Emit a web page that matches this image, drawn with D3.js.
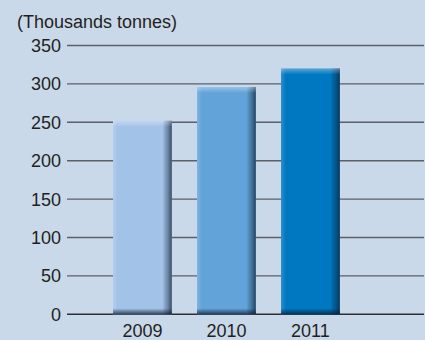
<!DOCTYPE html>
<html>
<head>
<meta charset="utf-8">
<script src="https://cdn.jsdelivr.net/npm/d3@7"></script>
<style>
  html, body { margin: 0; padding: 0; background: #cad9ea; }
  svg { display: block; }
  text { font-family: "Liberation Sans", Arial, sans-serif; fill: #231f20; }
</style>
</head>
<body>
<script>
// Production by year (thousand tonnes)
const years = ["2009", "2010", "2011"];
const production = [252, 296, 320];
const barColors = ["#a3c2e7", "#62a4d9", "#0078c1"];
const yTicks = [0, 50, 100, 150, 200, 250, 300, 350];
const unitLabel = "(Thousands tonnes)";

const W = 425, H = 340;
const FS = 18;
const svg = d3.select("body").append("svg").attr("width", W).attr("height", H);
svg.append("rect").attr("width", W).attr("height", H).attr("fill", "#cad9ea");

const plot = { left: 67, right: 424, top: 45.5, bottom: 314.3 };

const y = d3.scaleLinear().domain([0, 350]).range([plot.bottom, plot.top]);
const x = d3.scaleBand().domain(years).range([100.4, 352.4]).paddingInner(0.3).paddingOuter(0.15);

const defs = svg.append("defs");
// side shading: light left rim, dark right edge
const hg = defs.append("linearGradient").attr("id", "sideShade").attr("x1", 0).attr("x2", 1).attr("y1", 0).attr("y2", 0);
hg.append("stop").attr("offset", 0).attr("stop-color", "#ffffff").attr("stop-opacity", 0.18);
hg.append("stop").attr("offset", 0.08).attr("stop-color", "#ffffff").attr("stop-opacity", 0);
hg.append("stop").attr("offset", 0.84).attr("stop-color", "#000000").attr("stop-opacity", 0);
hg.append("stop").attr("offset", 0.93).attr("stop-color", "#0a1a30").attr("stop-opacity", 0.35);
hg.append("stop").attr("offset", 1).attr("stop-color", "#0a1a30").attr("stop-opacity", 0.7);

// top highlight
const tg = defs.append("linearGradient").attr("id", "topShade").attr("x1", 0).attr("x2", 0).attr("y1", 0).attr("y2", 1);
tg.append("stop").attr("offset", 0).attr("stop-color", "#ffffff").attr("stop-opacity", 0.35);
tg.append("stop").attr("offset", 1).attr("stop-color", "#ffffff").attr("stop-opacity", 0);

// bottom dark edge
const bg = defs.append("linearGradient").attr("id", "bottomShade").attr("x1", 0).attr("x2", 0).attr("y1", 0).attr("y2", 1);
bg.append("stop").attr("offset", 0).attr("stop-color", "#0a1a30").attr("stop-opacity", 0);
bg.append("stop").attr("offset", 1).attr("stop-color", "#0a1a30").attr("stop-opacity", 0.75);

// gridlines
svg.append("g").selectAll("line").data(yTicks).join("line")
  .attr("x1", plot.left).attr("x2", plot.right)
  .attr("y1", d => y(d)).attr("y2", d => y(d))
  .attr("stroke", d => d === 0 ? "#2f2f35" : "#5d5f66")
  .attr("stroke-width", 1.4);

// y tick labels
svg.append("g").selectAll("text").data(yTicks).join("text")
  .attr("x", 61).attr("y", d => y(d)).attr("dy", "0.36em")
  .attr("text-anchor", "end").attr("font-size", FS)
  .text(d => d);

// unit label
svg.append("text").attr("x", 17).attr("y", 27.5).attr("font-size", FS).text(unitLabel);

// bars
const bars = svg.append("g").selectAll("g").data(years).join("g");
bars.append("rect")
  .attr("x", d => x(d)).attr("width", x.bandwidth())
  .attr("y", (d, i) => y(production[i])).attr("height", (d, i) => plot.bottom - y(production[i]))
  .attr("fill", (d, i) => barColors[i]);
bars.append("rect")
  .attr("x", d => x(d)).attr("width", x.bandwidth())
  .attr("y", (d, i) => y(production[i])).attr("height", (d, i) => plot.bottom - y(production[i]))
  .attr("fill", "url(#sideShade)");
bars.append("rect")
  .attr("x", d => x(d)).attr("width", x.bandwidth())
  .attr("y", (d, i) => y(production[i])).attr("height", 6)
  .attr("fill", "url(#topShade)");
bars.append("rect")
  .attr("x", d => x(d)).attr("width", x.bandwidth())
  .attr("y", plot.bottom - 6).attr("height", 6)
  .attr("fill", "url(#bottomShade)");

// year labels
svg.append("g").selectAll("text").data(years).join("text")
  .attr("x", d => x(d) + x.bandwidth() / 2).attr("y", 336.5)
  .attr("text-anchor", "middle").attr("font-size", FS)
  .text(d => d);
</script>
</body>
</html>
